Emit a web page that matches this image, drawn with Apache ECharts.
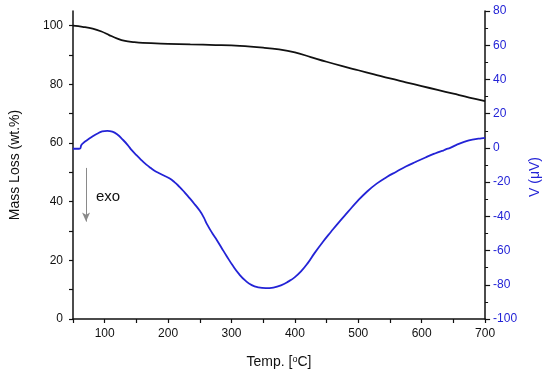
<!DOCTYPE html>
<html>
<head>
<meta charset="utf-8">
<script src="https://cdn.jsdelivr.net/npm/echarts@6/dist/echarts.min.js"></script>
<style>html,body{margin:0;padding:0;background:#fff}#c{width:550px;height:376px}</style>
</head>
<body>
<div id="c"></div>
<script>
// Temperature (°C) and mass loss (wt.%) – TG curve
const massTemp = [50,65,81,95,107,120,132,145,160,200,235,275,313,350,375,400,425,450,475,500,525,550,575,600,625,650,675,700];
const massLoss = [100,99.6,99,98,96.8,95.6,94.8,94.4,94.1,93.8,93.6,93.4,93.1,92.5,91.9,90.9,89.3,87.7,86.2,84.8,83.4,82,80.7,79.4,78.1,76.8,75.5,74.3];
// Temperature (°C) and signal V (µV) – DTA curve
const vTemp = [50,56,61,63,66,72,80,88,96,104,112,120,128,136,143,150,157,163,170,178,186,194,202,210,218,226,234,242,250,256,262,270,277,284,292,302,312,322,332,342,354,366,378,390,400,410,420,431,444,457,470,484,498,514,529,545,560,575,591,606,620,630,634,638,645,655,668,680,694,700];
const vSignal = [-0.5,-0.5,-0.4,1.5,2.8,4.5,6.5,8.3,9.6,10,9.5,7.8,5,1.8,-1.5,-4.2,-6.8,-8.9,-11,-13.2,-14.8,-16.3,-17.8,-20,-22.8,-26,-29.4,-33,-36.8,-40.5,-45,-50,-54,-58.2,-63,-68.8,-73.8,-77.6,-80.2,-81.5,-82,-81.6,-80.3,-78,-75.5,-72,-67.5,-61.5,-55,-49,-43.2,-37.3,-31.4,-25.5,-20.9,-17,-13.9,-10.9,-8.1,-5.6,-3.4,-2,-1.6,-0.9,0,1.8,3.6,4.8,5.6,5.8];
// Axis tick values
const xMajorTicks = [100,200,300,400,500,600,700];
const leftMajorTicks = [0,20,40,60,80,100];
const leftAllTicks = [0,10,20,30,40,50,60,70,80,90,100];
// Annotation
const exoArrow = [[70.6,51.5],[70.6,33.2]];

const FONT = 'Liberation Sans, Arial, sans-serif';
const BLUE = '#2323d6';
const chart = echarts.init(document.getElementById('c'));
chart.setOption({
  animation: false,
  backgroundColor: '#ffffff',
  grid: {left: 70, right: 59, top: 11, bottom: 57},
  xAxis: [{
    type: 'value', min: 50, max: 700, interval: 50, position: 'bottom',
    name: 'Temp. [{sup|o}C]', nameLocation: 'middle', nameGap: 36,
    nameTextStyle: {fontFamily: FONT, fontSize: 14, color: '#111',
      rich: {sup: {fontFamily: FONT, fontSize: 9, color: '#111', verticalAlign: 'top', lineHeight: 10}}},
    axisLine: {show: true, onZero: false, lineStyle: {color: '#111', width: 1.5}},
    axisTick: {show: true, inside: false, length: 4, lineStyle: {color: '#111', width: 1.2}},
    axisLabel: {customValues: xMajorTicks, margin: 9, fontFamily: FONT, fontSize: 12, color: '#111'},
    splitLine: {show: false}
  }],
  yAxis: [{
    type: 'value', min: 0, max: 105, position: 'left',
    name: 'Mass Loss (wt.%)', nameLocation: 'middle', nameGap: 51, nameRotate: 90,
    nameTextStyle: {fontFamily: FONT, fontSize: 14, color: '#111'},
    axisLine: {show: true, onZero: false, lineStyle: {color: '#111', width: 1.5}},
    axisTick: {show: true, length: 4, customValues: leftAllTicks, lineStyle: {color: '#111', width: 1.2}},
    axisLabel: {customValues: leftMajorTicks, margin: 10, fontFamily: FONT, fontSize: 12, color: '#111'},
    splitLine: {show: false}
  }, {
    type: 'value', min: -100, max: 80, interval: 20, position: 'right',
    name: 'V (\u03bcV)', nameLocation: 'middle', nameGap: 42, nameRotate: 90,
    nameTextStyle: {fontFamily: FONT, fontSize: 14, color: BLUE, padding: [0, 24, 0, 0]},
    axisLine: {show: true, onZero: false, lineStyle: {color: '#111', width: 1.5}},
    axisTick: {show: true, length: 5, lineStyle: {color: '#111', width: 1.2}},
    minorTick: {show: true, splitNumber: 2, length: 3, lineStyle: {color: '#111', width: 1}},
    axisLabel: {margin: 8, fontFamily: FONT, fontSize: 12, color: BLUE},
    splitLine: {show: false}, minorSplitLine: {show: false}
  }],
  series: [{
    type: 'line', name: 'Mass', xAxisIndex: 0, yAxisIndex: 0,
    data: massTemp.map((t, i) => [t, massLoss[i]]),
    smooth: 0.4, showSymbol: false, symbol: 'none',
    lineStyle: {color: '#111', width: 1.8},
    markLine: {
      silent: true, animation: false,
      symbol: ['none', 'arrow'], symbolSize: [6, 9],
      label: {show: false},
      lineStyle: {color: '#8a8a8a', width: 1, type: 'solid'},
      data: [[{coord: exoArrow[0]}, {coord: exoArrow[1], itemStyle: {color: '#333'}}]]
    }
  }, {
    type: 'line', name: 'V', xAxisIndex: 0, yAxisIndex: 1,
    data: vTemp.map((t, i) => [t, vSignal[i]]),
    smooth: 0.5, showSymbol: false, symbol: 'none',
    lineStyle: {color: BLUE, width: 1.8}
  }],
  graphic: [{
    type: 'text', left: 96, top: 189,
    style: {text: 'exo', font: '15px ' + FONT, fill: '#111'}
  }]
});
</script>
</body>
</html>
